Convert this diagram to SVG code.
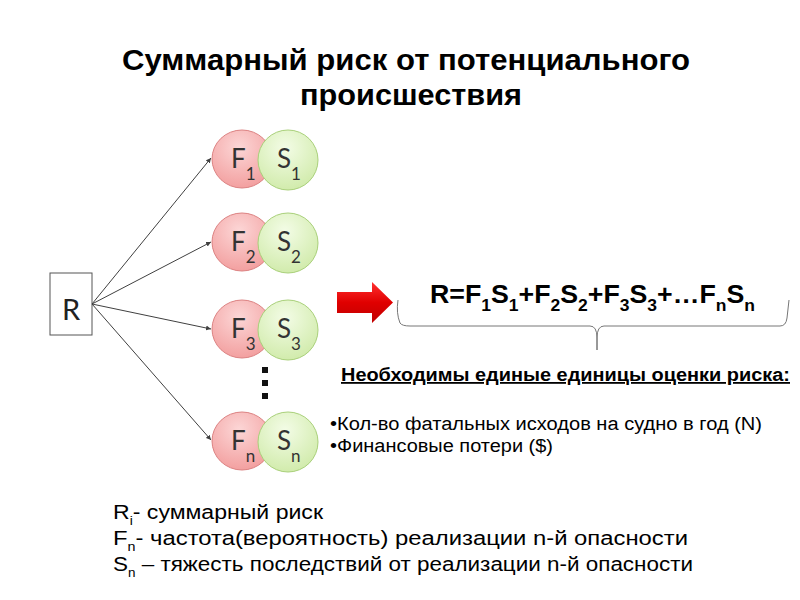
<svg xmlns="http://www.w3.org/2000/svg" width="800" height="600" viewBox="0 0 800 600">
<defs>
<radialGradient id="gF" cx="0.45" cy="0.3" r="0.75">
<stop offset="0" stop-color="#fcd6d6"/><stop offset="1" stop-color="#f29c9c"/>
</radialGradient>
<radialGradient id="gS" cx="0.45" cy="0.3" r="0.75">
<stop offset="0" stop-color="#f3fce6"/><stop offset="1" stop-color="#cfeaa8"/>
</radialGradient>
<linearGradient id="gA" x1="0" y1="0" x2="0" y2="1">
<stop offset="0" stop-color="#ff3030"/><stop offset="0.5" stop-color="#e00000"/><stop offset="1" stop-color="#c00000"/>
</linearGradient>
<marker id="ah" markerWidth="6" markerHeight="6" refX="5" refY="3" orient="auto" markerUnits="userSpaceOnUse">
<path d="M0,0.5 L5,3 L0,5.5 z" fill="#404040"/>
</marker>
<style>
.f{fill:url(#gF);stroke:#dc8282;stroke-width:1}
.s{fill:url(#gS);stroke:#a9d07a;stroke-width:1}
.ct{font-family:"Lato","Open Sans",sans-serif;font-size:26px;fill:#333}
.sub{font-size:17px}
.ar{font-family:"Liberation Sans",Arial,sans-serif;fill:#000}
.conn line{stroke:#404040;stroke-width:1;marker-end:url(#ah)}
</style>
</defs>
<rect width="800" height="600" fill="#fff"/>
<g id="title">
<text class="ar" x="122" y="70" font-size="29" font-weight="bold" textLength="568" lengthAdjust="spacingAndGlyphs">Суммарный риск от потенциального</text>
<text class="ar" x="300" y="105" font-size="29" font-weight="bold" textLength="222" lengthAdjust="spacingAndGlyphs">происшествия</text>
</g>
<g id="R">
<rect x="50" y="273" width="42" height="62" fill="#fff" stroke="#555" stroke-width="1"/>
<text x="71" y="320" text-anchor="middle" font-family="Lato,'Open Sans',sans-serif" font-size="29" fill="#222">R</text>
</g>
<g class="conn" id="connectors">
<line x1="92" y1="304" x2="211" y2="158"/>
<line x1="92" y1="304" x2="211" y2="242"/>
<line x1="92" y1="304" x2="211" y2="329"/>
<line x1="92" y1="304" x2="211" y2="440"/>
</g>
<g id="node1">
<ellipse class="f" cx="242" cy="159" rx="30" ry="29"/>
<ellipse class="s" cx="288" cy="160" rx="30" ry="30"/>
<text class="ct" x="231" y="168">F<tspan class="sub" dy="12">1</tspan></text>
<text class="ct" x="277" y="168">S<tspan class="sub" dy="12">1</tspan></text>
</g>
<g id="node2">
<ellipse class="f" cx="242" cy="242" rx="30" ry="29"/>
<ellipse class="s" cx="288" cy="243" rx="30" ry="30"/>
<text class="ct" x="231" y="251">F<tspan class="sub" dy="12">2</tspan></text>
<text class="ct" x="277" y="251">S<tspan class="sub" dy="12">2</tspan></text>
</g>
<g id="node3">
<ellipse class="f" cx="242" cy="329" rx="30" ry="29"/>
<ellipse class="s" cx="288" cy="330" rx="30" ry="30"/>
<text class="ct" x="231" y="338">F<tspan class="sub" dy="12">3</tspan></text>
<text class="ct" x="277" y="338">S<tspan class="sub" dy="12">3</tspan></text>
</g>
<g id="noden">
<ellipse class="f" cx="242" cy="441" rx="30" ry="29"/>
<ellipse class="s" cx="288" cy="442" rx="30" ry="30"/>
<text class="ct" x="231" y="450">F<tspan class="sub" dy="12">n</tspan></text>
<text class="ct" x="277" y="450">S<tspan class="sub" dy="12">n</tspan></text>
</g>
<g id="dots" fill="#111">
<rect x="262" y="367" width="6" height="6"/>
<rect x="262" y="380" width="6" height="6"/>
<rect x="262" y="393" width="6" height="6"/>
</g>
<g id="arrow">
<path d="M337,292 L372,292 L372,282 L393,302.5 L372,323 L372,313 L337,313 z" fill="url(#gA)"/>
</g>
<g id="formula">
<text class="ar" x="430" y="303" font-size="26" font-weight="bold" textLength="325" lengthAdjust="spacingAndGlyphs">R=F<tspan font-size="17" dy="8">1</tspan><tspan dy="-8">S</tspan><tspan font-size="17" dy="8">1</tspan><tspan dy="-8">+F</tspan><tspan font-size="17" dy="8">2</tspan><tspan dy="-8">S</tspan><tspan font-size="17" dy="8">2</tspan><tspan dy="-8">+F</tspan><tspan font-size="17" dy="8">3</tspan><tspan dy="-8">S</tspan><tspan font-size="17" dy="8">3</tspan><tspan dy="-8">+…F</tspan><tspan font-size="17" dy="8">n</tspan><tspan dy="-8">S</tspan><tspan font-size="17" dy="8">n</tspan></text>
</g>
<g id="brace">
<path d="M398,300 Q396,313 400,323 Q402,326 410,326 L590,326 Q597,326 597,338 L597,350 M597,350 L597,338 Q597,326 604,326 L780,326 Q786,326 787,318 L789,300" fill="none" stroke="#777" stroke-width="1"/>
</g>
<g id="units">
<text class="ar" x="341" y="381" font-size="18" font-weight="bold" text-decoration="underline" fill="#222" textLength="449" lengthAdjust="spacingAndGlyphs">Необходимы единые единицы оценки риска:</text>
<text class="ar" x="330" y="430" font-size="18" fill="#222" textLength="432" lengthAdjust="spacingAndGlyphs">•Кол-во фатальных исходов на судно в год (N)</text>
<text class="ar" x="330" y="452" font-size="18" fill="#222" textLength="223" lengthAdjust="spacingAndGlyphs">•Финансовые потери ($)</text>
</g>
<g id="legend">
<text class="ar" x="113" y="519" font-size="20" fill="#222" textLength="210" lengthAdjust="spacingAndGlyphs">R<tspan font-size="12" dy="6">i</tspan><tspan dy="-6">- суммарный риск</tspan></text>
<text class="ar" x="113" y="545" font-size="20" fill="#222" textLength="575" lengthAdjust="spacingAndGlyphs">F<tspan font-size="12" dy="6">n</tspan><tspan dy="-6">- частота(вероятность) реализации n-й опасности</tspan></text>
<text class="ar" x="113" y="571" font-size="20" fill="#222" textLength="580" lengthAdjust="spacingAndGlyphs">S<tspan font-size="12" dy="6">n</tspan><tspan dy="-6"> – тяжесть последствий от реализации n-й опасности</tspan></text>
</g>
</svg>
